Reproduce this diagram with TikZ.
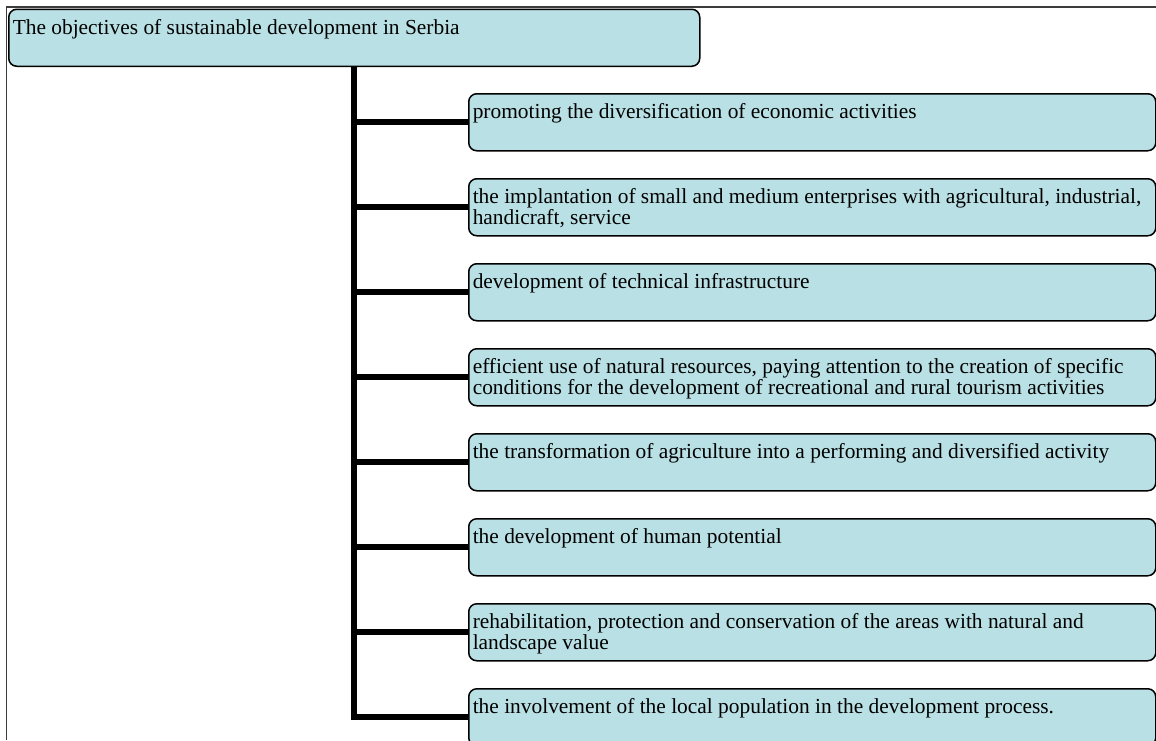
\documentclass[tikz,border=0pt]{standalone}
\usepackage{fontspec}
\setmainfont{Liberation Serif}
\definecolor{boxfill}{RGB}{185,224,228}
\definecolor{framegray}{RGB}{60,60,60}
\newcommand\bxt[2]{\parbox[t][41pt][t]{#1}{\rule{0pt}{17pt}#2}}
\begin{document}
\begin{tikzpicture}[x=1pt,y=-1pt,
  objbox/.style={draw=black, line width=1.5pt, fill=boxfill, rounded corners=8pt,
    anchor=north west, inner xsep=4pt, inner ysep=8pt, align=left,
    font=\fontsize{21.4}{21}\selectfont},
  conn/.style={draw=black, line width=6pt, line join=miter},
  framel/.style={draw=framegray, line width=1.5pt}]
\useasboundingbox (0,0) rectangle (1156,740);
\clip (0,0) rectangle (1156,740);
% frame
\coordinate (ftl) at (6.5,7);
\coordinate (ftr) at (1156,7);
\coordinate (fbl) at (6.5,740);
\draw[framel] (ftr) -- (ftl) -- (fbl);
% title
\node[objbox] (title) at (8,8.5) {\bxt{683pt}{The objectives of sustainable development in Serbia}};
% children
\node[objbox] (c1) at (468,93)  {\bxt{679pt}{promoting the diversification of economic activities}};
\node[objbox] (c2) at (468,178) {\bxt{679pt}{the implantation of small and medium enterprises with agricultural, industrial,\\handicraft, service}};
\node[objbox] (c3) at (468,263) {\bxt{679pt}{development of technical infrastructure}};
\node[objbox] (c4) at (468,348) {\bxt{679pt}{efficient use of natural resources, paying attention to the creation of specific\\conditions for the development of recreational and rural tourism activities}};
\node[objbox] (c5) at (468,433) {\bxt{679pt}{the transformation of agriculture into a performing and diversified activity}};
\node[objbox] (c6) at (468,518) {\bxt{679pt}{the development of human potential}};
\node[objbox] (c7) at (468,603) {\bxt{679pt}{rehabilitation, protection and conservation of the areas with natural and\\landscape value}};
\node[objbox] (c8) at (468,688) {\bxt{679pt}{the involvement of the local population in the development process.}};
% connectors
\foreach \c in {c1,c2,c3,c4,c5,c6,c7}
  \draw[conn] (title.south |- \c.west) -- (\c.west);
\draw[conn] (title.south) |- (c8.west);
\end{tikzpicture}
\end{document}
